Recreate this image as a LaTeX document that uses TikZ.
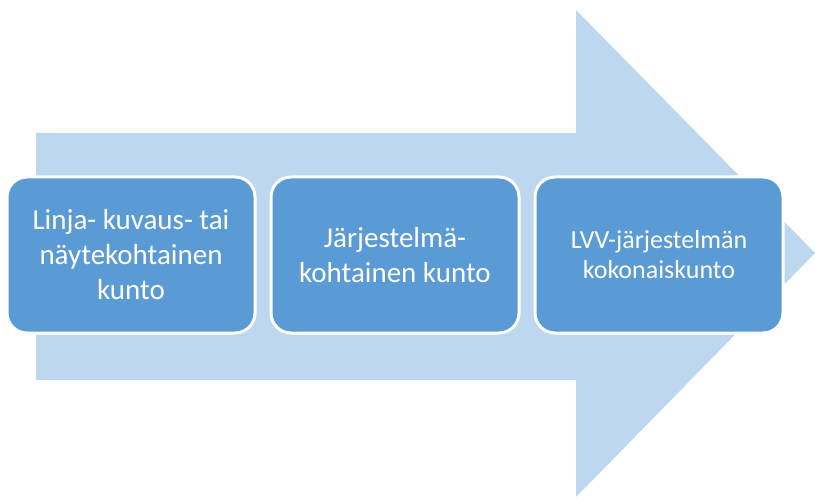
\documentclass[tikz,border=0pt]{standalone}
\usepackage{fontspec}
\newfontfamily\boxfont{Carlito}
\usetikzlibrary{positioning}
\definecolor{arrowblue}{RGB}{189,215,238}
\definecolor{boxblue}{RGB}{91,155,213}

\begin{document}
\begin{tikzpicture}[x=1pt, y=-1pt]
    \tikzstyle{every node} = [align=center]
    \tikzstyle{stage} = [draw=white, line width=3pt, fill=boxblue, text=white,
        rounded corners=20pt, minimum width=248pt, minimum height=156pt,
        inner sep=0pt, font=\boxfont\fontsize{29}{35}\selectfont]
    \useasboundingbox (0,0) rectangle (815,500);
    % big arrow behind the boxes
    \fill[arrowblue] (36,133) -- (576,133) -- (576,10) -- (815,253)
        -- (576,497) -- (576,380) -- (36,380) -- cycle;
    \node [stage] (line) at (131,255) {Linja- kuvaus- tai\\näytekohtainen\\kunto};
    \node [stage, right=13pt of line] (system) {Järjestelmä-\\kohtainen kunto};
    \node [stage, right=13pt of system, font=\boxfont\fontsize{26}{30}\selectfont]
        (total) {LVV-järjestelmän\\kokonaiskunto};
\end{tikzpicture}
\end{document}
